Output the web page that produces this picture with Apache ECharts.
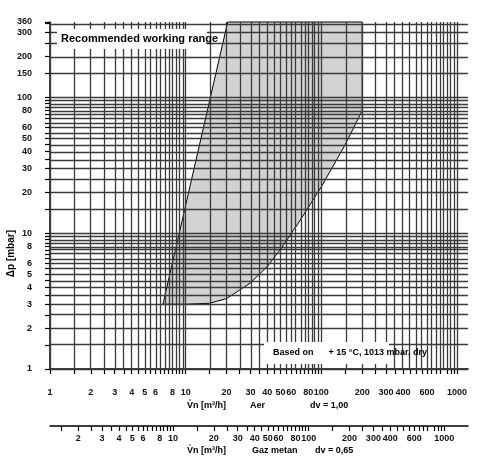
<!DOCTYPE html>
<html><head><meta charset="utf-8">
<script src="https://cdn.jsdelivr.net/npm/echarts@6/dist/echarts.min.js"></script>
<style>html,body{margin:0;padding:0;background:#fff}#c{width:488px;height:460px}</style>
</head><body><div id="c"></div>
<script>
// Air flow grid / tick values (m3/h)
const airTicks = [1,1.5,2,2.5,3,3.5,4,4.5,5,5.5,6,6.5,7,7.5,8,8.5,9,9.5,10,15,20,25,30,35,40,45,50,55,60,65,70,75,80,85,90,95,100,150,200,250,300,350,400,450,500,550,600,650,700,750,800,850,900,950,1000];
const airLabels = [1,2,3,4,5,6,8,10,20,30,40,50,60,80,100,200,300,400,600,800,1000];
const gasTicks = [1.5,2,2.5,3,3.5,4,4.5,5,5.5,6,6.5,7,7.5,8,8.5,9,9.5,10,15,20,25,30,35,40,45,50,55,60,65,70,75,80,85,90,95,100,150,200,250,300,350,400,450,500,550,600,650,700,750,800,850,900,950,1000];
const gasLabels = [2,3,4,5,6,8,10,20,30,40,50,60,80,100,200,300,400,600,800,1000];
const pTicks = [1,1.5,2,2.5,3,3.5,4,4.5,5,5.5,6,6.5,7,7.5,8,8.5,9,9.5,10,15,20,25,30,35,40,45,50,55,60,65,70,75,80,85,90,95,100,150,200,250,300,350,360];
const pLabels = [1,2,3,4,5,6,8,10,20,30,40,50,60,80,100,150,200,300,360];
// Working range boundary (flow m3/h, pressure mbar)
const rangeFlow = [6.8,10,15,20,30,40,50,70,100,150,200,200,20.4];
const rangeP    = [3,3,3.05,3.3,4.3,5.7,7.6,12.5,22,45,80,360,360];
const densityFactor = Math.sqrt(1/0.65);

const L = Math.log10;
const font = {fontFamily:'Liberation Sans, Arial', fontWeight:'bold', fontSize:9, color:'#111'};
const gridCol = '#3a3a3a';
const xMax = L(1000)+0.081, yMax = L(360);
const fmt = v=>String(Math.round(Math.pow(10,v)));
const chart = echarts.init(document.getElementById('c'));
chart.setOption({
  animation:false,
  grid:{left:50,right:20,top:22,bottom:91},
  xAxis:[
    {type:'value',min:0,max:xMax,position:'bottom',offset:11,
     axisLine:{lineStyle:{color:'#000',width:1.5}},
     axisTick:{customValues:airTicks.map(L),length:5,lineStyle:{color:'#000',width:1.2}},
     axisLabel:{customValues:airLabels.map(L),formatter:fmt,margin:8,showMaxLabel:true,showMinLabel:true,hideOverlap:false,...font},
     splitLine:{show:false}},
    {type:'value',min:L(densityFactor),max:xMax+L(densityFactor),position:'bottom',offset:57,
     axisLine:{lineStyle:{color:'#000',width:1.5}},
     axisTick:{customValues:gasTicks.map(L),length:5,lineStyle:{color:'#000',width:1.2}},
     axisLabel:{customValues:gasLabels.map(L),formatter:fmt,margin:8,showMaxLabel:true,hideOverlap:false,...font},
     splitLine:{show:false}}
  ],
  yAxis:{type:'value',min:0,max:yMax,offset:12,
    axisLine:{show:true,lineStyle:{color:'#000',width:1.5}},
    axisTick:{customValues:pTicks.map(L),length:5,lineStyle:{color:'#000',width:1.2}},
    axisLabel:{customValues:pLabels.map(L),formatter:fmt,margin:6,showMaxLabel:true,...font},
    splitLine:{show:false}},
  series:[
    {type:'custom',xAxisIndex:0,z:2,
     data:[0],
     renderItem:(p,api)=>{
       const pts=rangeFlow.map((f,i)=>api.coord([L(f),L(rangeP[i])]));
       return {type:'polygon',shape:{points:pts},style:{fill:'#d2d2d2',stroke:'#000',lineWidth:1}};
     }},
    {type:'line',xAxisIndex:0,data:[],z:3,silent:true,
     markLine:{symbol:'none',silent:true,label:{show:false},
       lineStyle:{color:gridCol,width:1.3,type:'solid'},
       data:[...airTicks.map(v=>({xAxis:L(v)})),...pTicks.map(v=>({yAxis:L(v)}))]}}
  ],
  graphic:[
    {type:'rect',left:57,top:29,shape:{width:150,height:20},style:{fill:'#fff'},z:100},
    {type:'text',left:61,top:33,style:{text:'Recommended working range',font:'bold 11px Liberation Sans, Arial',fill:'#000'},z:101},
    {type:'rect',left:264,top:342,shape:{width:125,height:22},style:{fill:'#fff'},z:100},
    {type:'text',left:273,top:348,style:{text:'Based on      + 15 °C, 1013 mbar, dry',font:'bold 9px Liberation Sans, Arial',fill:'#000'},z:101},
    {type:'text',left:187,top:401,style:{text:'V̊n [m³/h]',font:'bold 9px Liberation Sans, Arial',fill:'#000'}},
    {type:'text',left:250,top:401,style:{text:'Aer',font:'bold 9px Liberation Sans, Arial',fill:'#000'}},
    {type:'text',left:310,top:401,style:{text:'dv = 1,00',font:'bold 9px Liberation Sans, Arial',fill:'#000'}},
    {type:'text',left:187,top:446,style:{text:'V̊n [m³/h]',font:'bold 9px Liberation Sans, Arial',fill:'#000'}},
    {type:'text',left:252,top:446,style:{text:'Gaz metan',font:'bold 9px Liberation Sans, Arial',fill:'#000'}},
    {type:'text',left:315,top:446,style:{text:'dv = 0,65',font:'bold 9px Liberation Sans, Arial',fill:'#000'}},
    {type:'text',left:6,top:230,rotation:Math.PI/2,originX:0,originY:0,style:{text:'Δp [mbar]',font:'bold 10px Liberation Sans, Arial',fill:'#000'}}
  ]
});
</script></body></html>
